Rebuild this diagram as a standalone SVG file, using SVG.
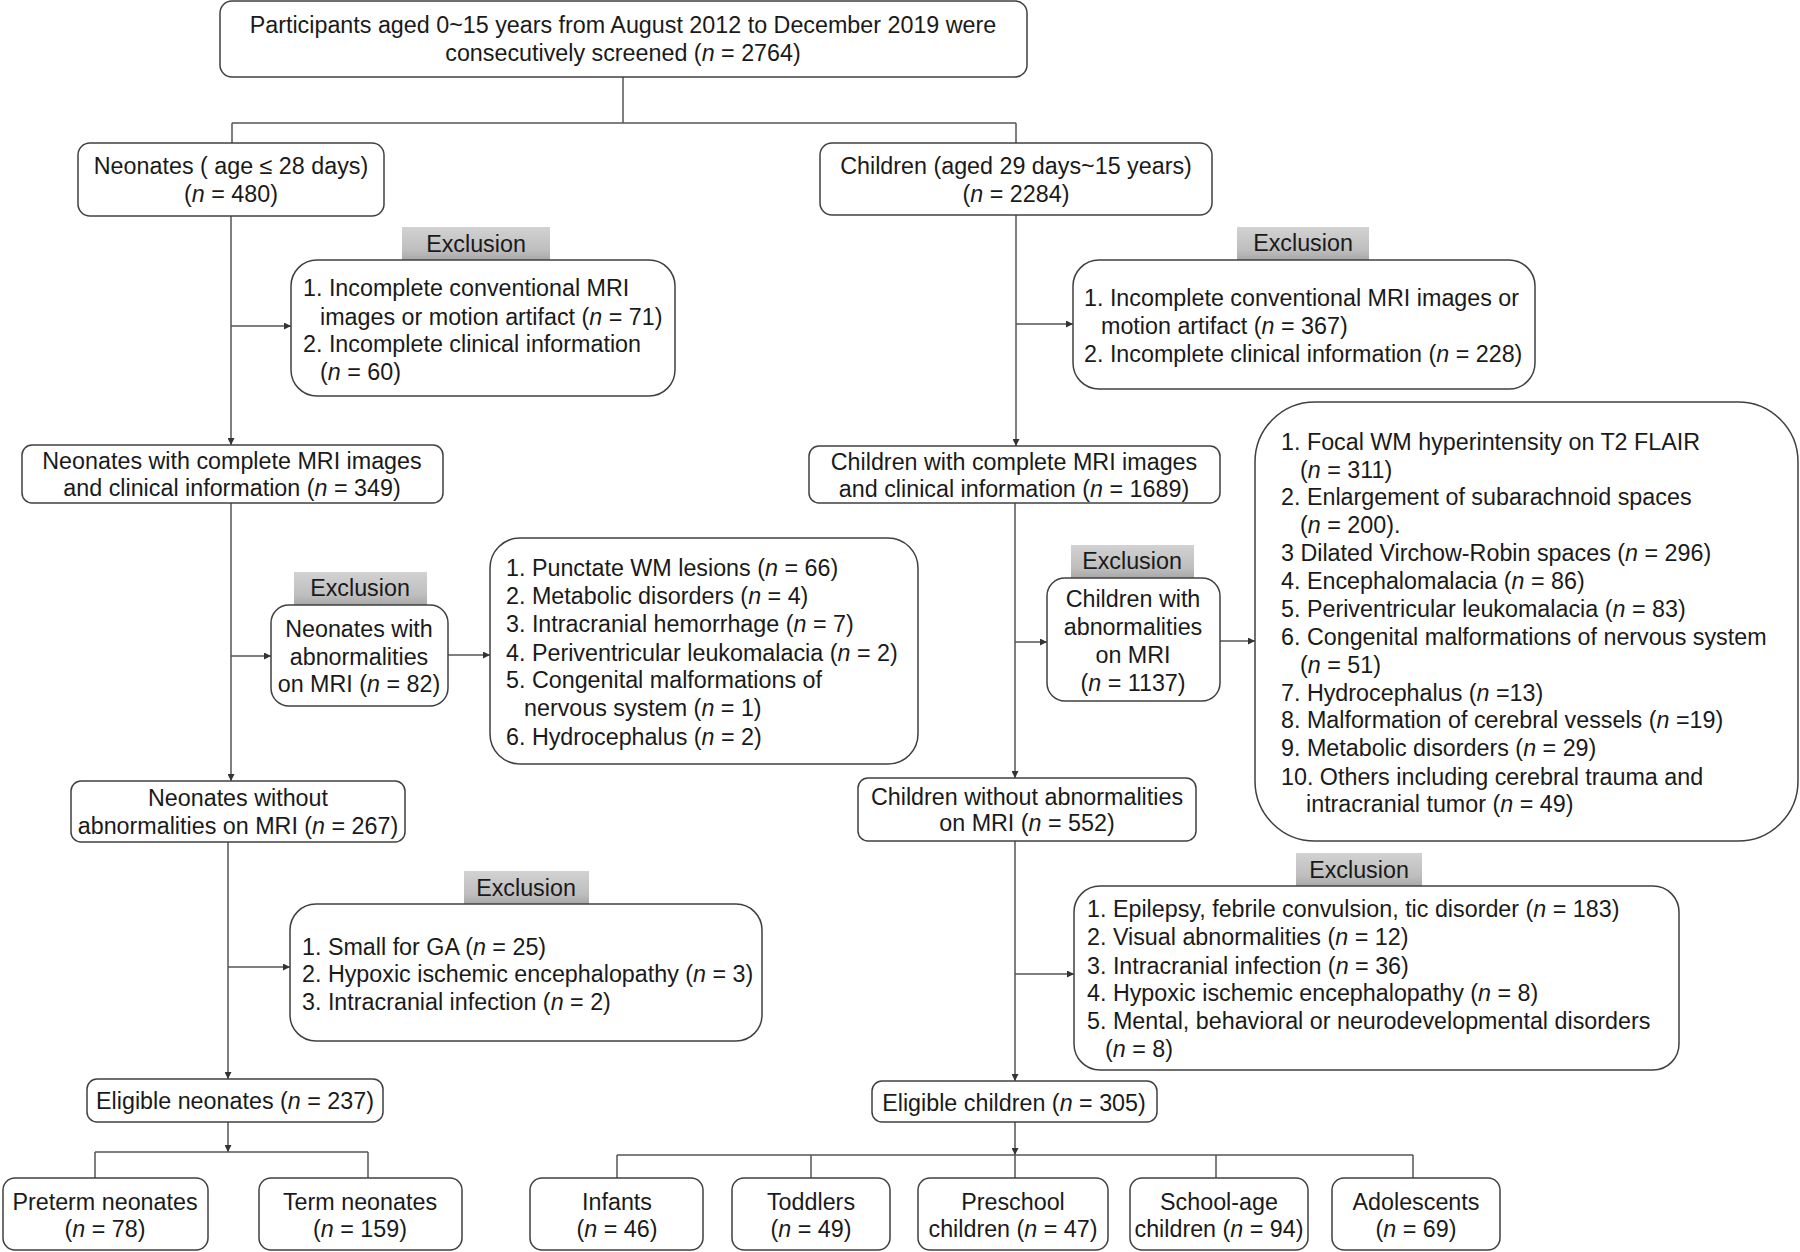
<svg xmlns="http://www.w3.org/2000/svg" width="1800" height="1252" viewBox="0 0 1800 1252">
<defs>
<linearGradient id="g" x1="0" y1="0" x2="0" y2="1">
<stop offset="0" stop-color="#d2d2d2"/>
<stop offset="0.7" stop-color="#bebebe"/>
<stop offset="1" stop-color="#a8a8a8"/>
</linearGradient>
<marker id="ah" viewBox="0 0 10 10" refX="10" refY="5" markerWidth="7" markerHeight="7" markerUnits="userSpaceOnUse" orient="auto">
<path d="M0,0 L10,5 L0,10 z" fill="#333"/>
</marker>
<style>
.b{fill:#fff;stroke:#404040;stroke-width:1.5}
.x{fill:url(#g);stroke:none}
text{font-family:"Liberation Sans",Arial,sans-serif;font-size:23.3px;fill:#1a1a1a}
.c{text-anchor:middle}
.c2 line,.c2 path{stroke:#555;stroke-width:1.5;fill:none}
.a{marker-end:url(#ah)}
.i{font-style:italic}
</style>
</defs>
<rect width="1800" height="1252" fill="#fff"/>
<g class="c2" id="connectors">
<path d="M623,77 V123 M232,123 H1016 M232,123 V143 M1016,123 V143"/>
<path class="a" d="M231,216 V445"/>
<path class="a" d="M231,326 H291"/>
<path class="a" d="M231,503 V781"/>
<path class="a" d="M231,656 H271"/>
<path class="a" d="M448,655 H490"/>
<path class="a" d="M228,842 V1079"/>
<path class="a" d="M228,967 H290"/>
<path class="a" d="M228,1122 V1152"/>
<path d="M95,1152 H368 M95,1152 V1178 M368,1152 V1178"/>
<path class="a" d="M1016,215 V446"/>
<path class="a" d="M1016,324 H1073"/>
<path class="a" d="M1015,503 V778"/>
<path class="a" d="M1015,642 H1047"/>
<path class="a" d="M1220,641 H1255"/>
<path class="a" d="M1015,841 V1081"/>
<path class="a" d="M1015,974 H1074"/>
<path class="a" d="M1015,1122 V1155"/>
<path d="M617,1155 H1413 M617,1155 V1178 M811,1155 V1178 M1015,1155 V1178 M1216,1155 V1178 M1413,1155 V1178"/>
</g>
<g id="n-top">
<rect class="b" x="220" y="1" width="807" height="76" rx="12"/>
<text class="c" x="623" y="33">Participants aged 0~15 years from August 2012 to December 2019 were</text>
<text class="c" x="623" y="61">consecutively screened (<tspan class="i">n</tspan> = 2764)</text>
</g>
<g id="n-neonates">
<rect class="b" x="78" y="143" width="306" height="73" rx="12"/>
<text class="c" x="231" y="174">Neonates ( age ≤ 28 days)</text>
<text class="c" x="231" y="202">(<tspan class="i">n</tspan> = 480)</text>
</g>
<g id="n-children">
<rect class="b" x="820" y="143" width="392" height="72" rx="12"/>
<text class="c" x="1016" y="174">Children (aged 29 days~15 years)</text>
<text class="c" x="1016" y="202">(<tspan class="i">n</tspan> = 2284)</text>
</g>
<g id="n-excl-l1">
<rect class="x" x="402" y="227" width="148" height="33"/>
<text class="c" x="476" y="252">Exclusion</text>
<rect class="b" x="291" y="260" width="384" height="136" rx="26"/>
<text x="303" y="296">1. Incomplete conventional MRI</text>
<text x="320" y="325">images or motion artifact (<tspan class="i">n</tspan> = 71)</text>
<text x="303" y="352">2. Incomplete clinical information</text>
<text x="320" y="380">(<tspan class="i">n</tspan> = 60)</text>
</g>
<g id="n-neo-complete">
<rect class="b" x="22" y="445" width="421" height="58" rx="10"/>
<text class="c" x="232" y="469">Neonates with complete MRI images</text>
<text class="c" x="232" y="496">and clinical information (<tspan class="i">n</tspan> = 349)</text>
</g>
<g id="n-neo-abn">
<rect class="x" x="294" y="572" width="133" height="33"/>
<text class="c" x="360" y="596">Exclusion</text>
<rect class="b" x="271" y="605" width="177" height="101" rx="18"/>
<text class="c" x="359" y="637">Neonates with</text>
<text class="c" x="359" y="665">abnormalities</text>
<text class="c" x="359" y="692">on MRI (<tspan class="i">n</tspan> = 82)</text>
</g>
<g id="n-neo-abn-list">
<rect class="b" x="490" y="538" width="428" height="226" rx="30"/>
<text x="506" y="576">1. Punctate WM lesions (<tspan class="i">n</tspan> = 66)</text>
<text x="506" y="604">2. Metabolic disorders (<tspan class="i">n</tspan> = 4)</text>
<text x="506" y="632">3. Intracranial hemorrhage (<tspan class="i">n</tspan> = 7)</text>
<text x="506" y="661">4. Periventricular leukomalacia (<tspan class="i">n</tspan> = 2)</text>
<text x="506" y="688">5. Congenital malformations of</text>
<text x="524" y="716">nervous system (<tspan class="i">n</tspan> = 1)</text>
<text x="506" y="745">6. Hydrocephalus (<tspan class="i">n</tspan> = 2)</text>
</g>
<g id="n-neo-without">
<rect class="b" x="71" y="781" width="334" height="61" rx="10"/>
<text class="c" x="238" y="806">Neonates without</text>
<text class="c" x="238" y="834">abnormalities on MRI (<tspan class="i">n</tspan> = 267)</text>
</g>
<g id="n-excl-l3">
<rect class="x" x="464" y="871" width="125" height="33"/>
<text class="c" x="526" y="896">Exclusion</text>
<rect class="b" x="290" y="904" width="472" height="137" rx="26"/>
<text x="302" y="955">1. Small for GA (<tspan class="i">n</tspan> = 25)</text>
<text x="302" y="982">2. Hypoxic ischemic encephalopathy (<tspan class="i">n</tspan> = 3)</text>
<text x="302" y="1010">3. Intracranial infection (<tspan class="i">n</tspan> = 2)</text>
</g>
<g id="n-eligible-neo">
<rect class="b" x="87" y="1079" width="296" height="43" rx="10"/>
<text class="c" x="235" y="1109">Eligible neonates (<tspan class="i">n</tspan> = 237)</text>
</g>
<g id="n-preterm">
<rect class="b" x="3" y="1178" width="205" height="72" rx="12"/>
<text class="c" x="105" y="1210">Preterm neonates</text>
<text class="c" x="105" y="1237">(<tspan class="i">n</tspan> = 78)</text>
</g>
<g id="n-term">
<rect class="b" x="259" y="1178" width="203" height="72" rx="12"/>
<text class="c" x="360" y="1210">Term neonates</text>
<text class="c" x="360" y="1237">(<tspan class="i">n</tspan> = 159)</text>
</g>
<g id="n-excl-r1">
<rect class="x" x="1237" y="227" width="132" height="33"/>
<text class="c" x="1303" y="251">Exclusion</text>
<rect class="b" x="1073" y="260" width="462" height="129" rx="26"/>
<text x="1084" y="306">1. Incomplete conventional MRI images or</text>
<text x="1101" y="334">motion artifact (<tspan class="i">n</tspan> = 367)</text>
<text x="1084" y="362">2. Incomplete clinical information (<tspan class="i">n</tspan> = 228)</text>
</g>
<g id="n-child-complete">
<rect class="b" x="809" y="446" width="411" height="57" rx="10"/>
<text class="c" x="1014" y="470">Children with complete MRI images</text>
<text class="c" x="1014" y="497">and clinical information (<tspan class="i">n</tspan> = 1689)</text>
</g>
<g id="n-child-abn">
<rect class="x" x="1071" y="545" width="123" height="33"/>
<text class="c" x="1132" y="569">Exclusion</text>
<rect class="b" x="1047" y="578" width="173" height="123" rx="18"/>
<text class="c" x="1133" y="607">Children with</text>
<text class="c" x="1133" y="635">abnormalities</text>
<text class="c" x="1133" y="663">on MRI</text>
<text class="c" x="1133" y="691">(<tspan class="i">n</tspan> = 1137)</text>
</g>
<g id="n-child-abn-list">
<rect class="b" x="1255" y="402" width="543" height="439" rx="60"/>
<text x="1281" y="450">1. Focal WM hyperintensity on T2 FLAIR</text>
<text x="1300" y="478">(<tspan class="i">n</tspan> = 311)</text>
<text x="1281" y="505">2. Enlargement of subarachnoid spaces</text>
<text x="1300" y="533">(<tspan class="i">n</tspan> = 200).</text>
<text x="1281" y="561">3 Dilated Virchow-Robin spaces (<tspan class="i">n</tspan> = 296)</text>
<text x="1281" y="589">4. Encephalomalacia (<tspan class="i">n</tspan> = 86)</text>
<text x="1281" y="617">5. Periventricular leukomalacia (<tspan class="i">n</tspan> = 83)</text>
<text x="1281" y="645">6. Congenital malformations of nervous system</text>
<text x="1300" y="673">(<tspan class="i">n</tspan> = 51)</text>
<text x="1281" y="701">7. Hydrocephalus (<tspan class="i">n</tspan> =13)</text>
<text x="1281" y="728">8. Malformation of cerebral vessels (<tspan class="i">n</tspan> =19)</text>
<text x="1281" y="756">9. Metabolic disorders (<tspan class="i">n</tspan> = 29)</text>
<text x="1281" y="785">10. Others including cerebral trauma and</text>
<text x="1306" y="812">intracranial tumor (<tspan class="i">n</tspan> = 49)</text>
</g>
<g id="n-child-without">
<rect class="b" x="858" y="778" width="338" height="63" rx="10"/>
<text class="c" x="1027" y="805">Children without abnormalities</text>
<text class="c" x="1027" y="831">on MRI (<tspan class="i">n</tspan> = 552)</text>
</g>
<g id="n-excl-r3">
<rect class="x" x="1296" y="853" width="126" height="33"/>
<text class="c" x="1359" y="878">Exclusion</text>
<rect class="b" x="1074" y="886" width="605" height="184" rx="26"/>
<text x="1087" y="917">1. Epilepsy, febrile convulsion, tic disorder (<tspan class="i">n</tspan> = 183)</text>
<text x="1087" y="945">2. Visual abnormalities (<tspan class="i">n</tspan> = 12)</text>
<text x="1087" y="974">3. Intracranial infection (<tspan class="i">n</tspan> = 36)</text>
<text x="1087" y="1001">4. Hypoxic ischemic encephalopathy (<tspan class="i">n</tspan> = 8)</text>
<text x="1087" y="1029">5. Mental, behavioral or neurodevelopmental disorders</text>
<text x="1105" y="1057">(<tspan class="i">n</tspan> = 8)</text>
</g>
<g id="n-eligible-child">
<rect class="b" x="872" y="1081" width="285" height="41" rx="10"/>
<text class="c" x="1014" y="1111">Eligible children (<tspan class="i">n</tspan> = 305)</text>
</g>
<g id="n-infants">
<rect class="b" x="530" y="1178" width="173" height="72" rx="12"/>
<text class="c" x="617" y="1210">Infants</text>
<text class="c" x="617" y="1237">(<tspan class="i">n</tspan> = 46)</text>
</g>
<g id="n-toddlers">
<rect class="b" x="732" y="1178" width="158" height="72" rx="12"/>
<text class="c" x="811" y="1210">Toddlers</text>
<text class="c" x="811" y="1237">(<tspan class="i">n</tspan> = 49)</text>
</g>
<g id="n-preschool">
<rect class="b" x="918" y="1178" width="190" height="72" rx="12"/>
<text class="c" x="1013" y="1210">Preschool</text>
<text class="c" x="1013" y="1237">children (<tspan class="i">n</tspan> = 47)</text>
</g>
<g id="n-schoolage">
<rect class="b" x="1130" y="1178" width="178" height="72" rx="12"/>
<text class="c" x="1219" y="1210">School-age</text>
<text class="c" x="1219" y="1237">children (<tspan class="i">n</tspan> = 94)</text>
</g>
<g id="n-adolescents">
<rect class="b" x="1332" y="1178" width="168" height="72" rx="12"/>
<text class="c" x="1416" y="1210">Adolescents</text>
<text class="c" x="1416" y="1237">(<tspan class="i">n</tspan> = 69)</text>
</g>
</svg>
